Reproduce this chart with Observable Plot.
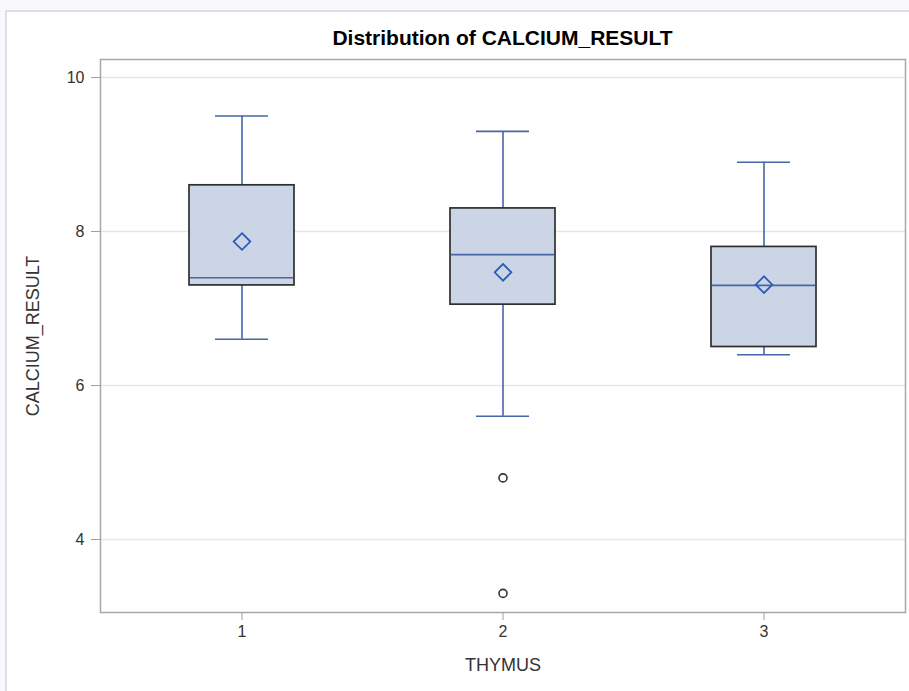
<!DOCTYPE html>
<html><head><meta charset="utf-8">
<script src="https://cdn.jsdelivr.net/npm/d3@7"></script>
<script src="https://cdn.jsdelivr.net/npm/@observablehq/plot@0.6"></script>
<style>
html,body{margin:0;padding:0;background:#f8f8fd;width:909px;height:691px;overflow:hidden;}
#panel{position:absolute;left:5px;top:10px;width:904px;height:681px;background:#fff;border-left:2px solid #dedee6;border-top:2px solid #dedee6;box-sizing:border-box;}
#title{position:absolute;left:0;top:26px;width:909px;padding-left:96px;box-sizing:border-box;text-align:center;font:bold 21px "Liberation Sans",Arial,sans-serif;line-height:24px;color:#000;}
#chart{position:absolute;left:0;top:49px;}
#chart svg{font-family:"Liberation Sans",Arial,sans-serif;}
</style>
</head><body>
<div id="panel"></div>
<div id="title">Distribution of CALCIUM_RESULT</div>
<div id="chart"></div>
<script>
const titleText = "Distribution of CALCIUM_RESULT";
const xLabel = "THYMUS";
const yLabel = "CALCIUM_RESULT";
const groups = ["1", "2", "3"];
const q1 = [7.3, 7.05, 6.5];
const median = [7.4, 7.7, 7.3];
const q3 = [8.6, 8.3, 7.8];
const whiskerLow = [6.6, 5.6, 6.4];
const whiskerHigh = [9.5, 9.3, 8.9];
const mean = [7.87, 7.47, 7.31];
const outlierGroup = ["2", "2"];
const outlierValue = [4.8, 3.3];
const yTicks = [4, 6, 8, 10];

const rows = groups.map((g, i) => ({group: g, q1: q1[i], median: median[i], q3: q3[i], low: whiskerLow[i], high: whiskerHigh[i], mean: mean[i]}));
const outliers = outlierGroup.map((g, i) => ({group: g, value: outlierValue[i]}));

const blue = "#4566a8";
const chart = Plot.plot({
  width: 909,
  height: 642,
  marginLeft: 100,
  marginRight: 4,
  marginTop: 10,
  marginBottom: 79,
  x: {type: "band", domain: groups, paddingInner: 0.5985, paddingOuter: 0.338, label: null},
  y: {domain: [3.052, 10.234], label: null},
  marks: [
    Plot.ruleY(yTicks, {stroke: "#e6e6e6", strokeWidth: 1.5}),
    Plot.frame({stroke: "#a8a8a8", strokeWidth: 1.5}),
    Plot.axisY({ticks: yTicks, tickSize: 9, tickPadding: 7, fontSize: 16, color: "#333", stroke: "#a0a0a0", label: null}),
    Plot.axisX({tickSize: 8, tickPadding: 5, fontSize: 16, color: "#333", stroke: "#a0a0a0", label: null}),
    Plot.text([yLabel], {text: d => d, frameAnchor: "left", dx: -67, rotate: -90, textAnchor: "middle", lineAnchor: "middle", fontSize: 18, fill: "#333"}),
    Plot.text([xLabel], {text: d => d, frameAnchor: "bottom", dy: 53, textAnchor: "middle", lineAnchor: "middle", fontSize: 18, fill: "#333"}),
    Plot.ruleX(rows, {x: "group", y1: "low", y2: "high", stroke: blue, strokeWidth: 1.6}),
    Plot.tickY(rows, {x: "group", y: "high", stroke: blue, strokeWidth: 1.6, insetLeft: 26, insetRight: 26}),
    Plot.tickY(rows, {x: "group", y: "low", stroke: blue, strokeWidth: 1.6, insetLeft: 26, insetRight: 26}),
    Plot.barY(rows, {x: "group", y1: "q1", y2: "q3", fill: "#cbd5e5", stroke: "#2e2e2e", strokeWidth: 1.7}),
    Plot.tickY(rows, {x: "group", y: "median", stroke: blue, strokeWidth: 1.6, insetLeft: 1, insetRight: 1}),
    Plot.dot(rows, {x: "group", y: "mean", symbol: "diamond2", r: 7.5, stroke: "#2c5cb8", strokeWidth: 1.8}),
    Plot.dot(outliers, {x: "group", y: "value", r: 4, stroke: "#333", strokeWidth: 1.6})
  ]
});
document.getElementById("chart").appendChild(chart);
</script>
</body></html>
